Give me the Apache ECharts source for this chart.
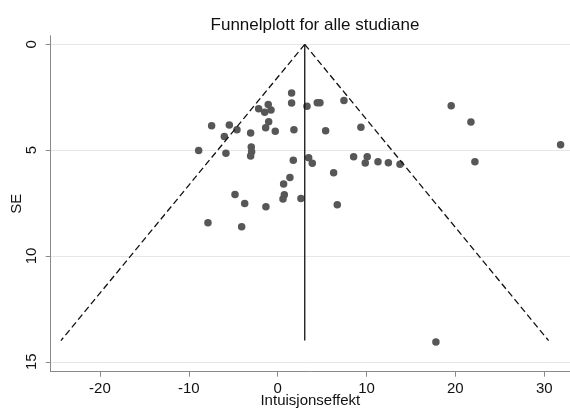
<!DOCTYPE html>
<html>
<head>
<meta charset="utf-8">
<script src="https://cdn.jsdelivr.net/npm/echarts@6/dist/echarts.min.js"></script>
<style>
  html, body { margin: 0; padding: 0; background: #fff; }
  #chart { width: 570px; height: 410px; }
</style>
</head>
<body>
<div id="chart"></div>
<script>
// Study effect estimates (Intuisjonseffekt) and their standard errors (SE)
const effects = [
  1.57, 1.57, 3.30, 4.46, 4.76, 7.46, -1.06, -2.14, -1.46, -0.75,
  -1.01, -1.35, -0.27, 1.83, 5.40, 9.37, -7.43, -5.44, -4.58, -6.00,
  -3.04, -8.89, -5.82, -2.97, -2.93, -3.04, 1.76, 3.49, 3.90, 8.55,
  10.08, 9.86, 11.29, 12.46, 13.77, 6.30, 1.38, 0.67, 0.75, 0.60,
  2.62, 6.71, -4.80, -3.71, -1.32, -7.84, -4.05, 19.53, 21.75, 31.84,
  22.20, 17.81
];
const standardErrors = [
  2.30, 2.77, 2.93, 2.76, 2.76, 2.65, 2.84, 3.04, 3.21, 3.10,
  3.66, 3.94, 4.11, 4.03, 4.08, 3.92, 3.85, 3.81, 4.03, 4.35,
  4.19, 5.01, 5.14, 4.85, 5.07, 5.28, 5.48, 5.36, 5.62, 5.31,
  5.31, 5.61, 5.55, 5.59, 5.66, 6.07, 6.29, 6.60, 7.11, 7.31,
  7.28, 7.58, 7.09, 7.52, 7.67, 8.43, 8.62, 2.90, 3.67, 4.74,
  5.55, 14.07
];

// Pooled estimate and the SE at which the funnel is closed
const pooledEffect = 3.05;
const funnelSE = 14;
const z95 = 1.96;

const xTicks = [-20, -10, 0, 10, 20, 30];
const yTicks = [0, 5, 10, 15];

const points = effects.map((e, i) => [e, standardErrors[i]]);
const leftEdge = [[pooledEffect, 0], [pooledEffect - z95 * funnelSE, funnelSE]];
const rightEdge = [[pooledEffect, 0], [pooledEffect + z95 * funnelSE, funnelSE]];
const centreLine = [[pooledEffect, 0], [pooledEffect, funnelSE]];

const FONT = '"Liberation Sans", Arial, sans-serif';
const axisGrey = '#8a8a8a';
const textColor = '#111';

const chart = echarts.init(document.getElementById('chart'), null, { renderer: 'canvas' });
chart.setOption({
  animation: false,
  backgroundColor: '#ffffff',
  title: {
    text: 'Funnelplott for alle studiane',
    left: 310, top: 12, textAlign: 'center',
    textStyle: { fontFamily: FONT, fontSize: 17, fontWeight: 'normal', color: textColor }
  },
  grid: {
    left: 50.7, right: 0, top: 35.7, bottom: 38.3,
    containLabel: false, outerBoundsMode: 'none'
  },
  xAxis: {
    type: 'value',
    min: -25.54, max: 32.9,
    name: 'Intuisjonseffekt',
    nameLocation: 'middle',
    nameGap: 22,
    nameMoveOverlap: false,
    nameTextStyle: { fontFamily: FONT, fontSize: 15, color: textColor },
    axisLine: { show: true, onZero: false, lineStyle: { color: axisGrey, width: 1 } },
    axisTick: { show: true, length: 5, customValues: xTicks, lineStyle: { color: axisGrey } },
    axisLabel: { customValues: xTicks, margin: 10, fontFamily: FONT, fontSize: 15, color: textColor },
    splitLine: { show: false }
  },
  yAxis: {
    type: 'value',
    inverse: true,
    min: -0.41, max: 15.47,
    name: 'SE',
    nameLocation: 'middle',
    nameGap: 26,
    nameRotate: 90,
    nameMoveOverlap: false,
    nameTextStyle: { fontFamily: FONT, fontSize: 15, color: textColor },
    axisLine: { show: true, onZero: false, lineStyle: { color: axisGrey, width: 1 } },
    axisTick: { show: true, length: 5, customValues: yTicks, lineStyle: { color: axisGrey } },
    axisLabel: { customValues: yTicks, rotate: 90, margin: 11, fontFamily: FONT, fontSize: 15, color: textColor },
    splitLine: { show: true, lineStyle: { color: '#e6e6e6', width: 1 } }
  },
  series: [
    {
      type: 'line', data: leftEdge, symbol: 'none', silent: true,
      lineStyle: { color: '#111', width: 1.3, type: [6.5, 3.5] }
    },
    {
      type: 'line', data: rightEdge, symbol: 'none', silent: true,
      lineStyle: { color: '#111', width: 1.3, type: [6.5, 3.5] }
    },
    {
      type: 'line', data: centreLine, symbol: 'none', silent: true,
      lineStyle: { color: '#111', width: 1.3, type: 'solid' }
    },
    {
      type: 'scatter', data: points, symbol: 'circle', symbolSize: 7.5,
      itemStyle: { color: '#575757', opacity: 1 }
    }
  ]
});
</script>
</body>
</html>
